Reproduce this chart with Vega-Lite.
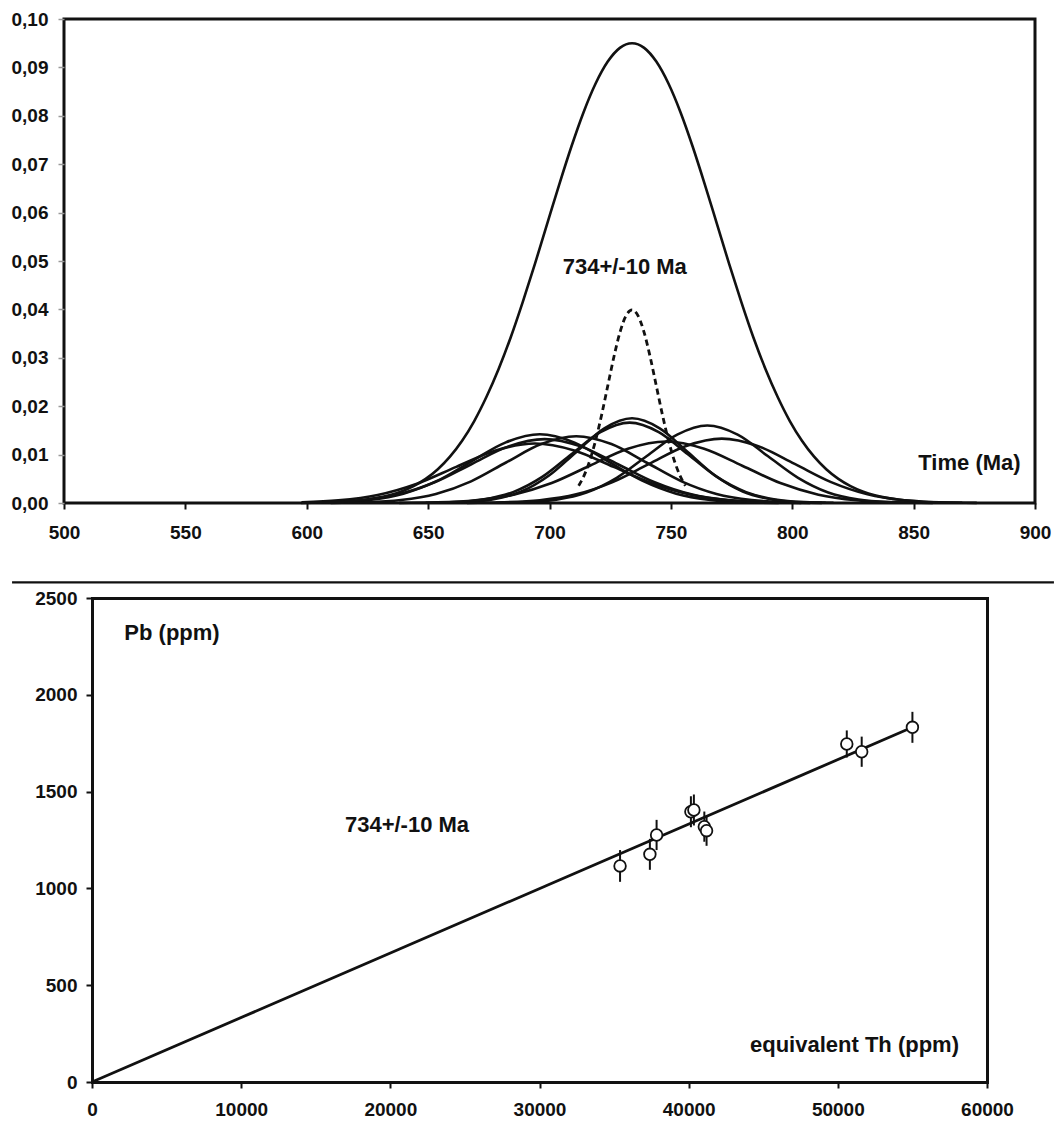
{
  "$schema": "https://vega.github.io/schema/vega-lite/v6.json",
  "padding": {"left": 9, "top": 8, "right": 0, "bottom": 0},
  "background": "white",
  "spacing": 4,
  "config": {
    "font": "Liberation Sans",
    "axis": {"labelFont": "Liberation Sans", "labelFontWeight": "bold", "labelFontSize": 19, "labelColor": "#111", "grid": false, "title": null, "labelFlush": false, "labelOverlap": false}
  },
  "datasets": {
    "curves": [
      {"c":"A","t":597.7,"p":0.00003},{"c":"A","t":611.7,"p":0.00016},{"c":"A","t":625.8,"p":0.00062},{"c":"A","t":639.8,"p":0.00192},{"c":"A","t":653.9,"p":0.00461},{"c":"A","t":667.9,"p":0.00861},{"c":"A","t":682.0,"p":0.01253},{"c":"A","t":696.0,"p":0.0142},{"c":"A","t":710.1,"p":0.01253},{"c":"A","t":724.1,"p":0.00861},{"c":"A","t":738.2,"p":0.00461},{"c":"A","t":752.2,"p":0.00192},{"c":"A","t":766.3,"p":0.00062},{"c":"A","t":780.3,"p":0.00016},{"c":"A","t":794.4,"p":0.00003},
      {"c":"B","t":598.0,"p":0.00004},{"c":"B","t":607.4,"p":0.00015},{"c":"B","t":622.5,"p":0.00058},{"c":"B","t":637.6,"p":0.00179},{"c":"B","t":652.7,"p":0.00429},{"c":"B","t":667.8,"p":0.00801},{"c":"B","t":682.9,"p":0.01165},{"c":"B","t":698.0,"p":0.0132},{"c":"B","t":713.1,"p":0.01165},{"c":"B","t":728.2,"p":0.00801},{"c":"B","t":743.3,"p":0.00429},{"c":"B","t":758.4,"p":0.00179},{"c":"B","t":773.5,"p":0.00058},{"c":"B","t":788.6,"p":0.00015},{"c":"B","t":803.7,"p":0.00003},
      {"c":"C","t":598.0,"p":0.00014},{"c":"C","t":613.0,"p":0.00054},{"c":"C","t":629.2,"p":0.00166},{"c":"C","t":645.4,"p":0.00399},{"c":"C","t":661.6,"p":0.00746},{"c":"C","t":677.8,"p":0.01086},{"c":"C","t":694.0,"p":0.0123},{"c":"C","t":710.2,"p":0.01086},{"c":"C","t":726.4,"p":0.00746},{"c":"C","t":742.6,"p":0.00399},{"c":"C","t":758.8,"p":0.00166},{"c":"C","t":775.0,"p":0.00054},{"c":"C","t":791.2,"p":0.00014},{"c":"C","t":807.4,"p":0.00003},
      {"c":"D","t":609.9,"p":0.00003},{"c":"D","t":624.3,"p":0.00015},{"c":"D","t":638.8,"p":0.00061},{"c":"D","t":653.2,"p":0.00187},{"c":"D","t":667.7,"p":0.00448},{"c":"D","t":682.1,"p":0.00837},{"c":"D","t":696.6,"p":0.01218},{"c":"D","t":711.0,"p":0.0138},{"c":"D","t":725.5,"p":0.01218},{"c":"D","t":739.9,"p":0.00837},{"c":"D","t":754.4,"p":0.00448},{"c":"D","t":768.8,"p":0.00187},{"c":"D","t":783.3,"p":0.00061},{"c":"D","t":797.7,"p":0.00015},{"c":"D","t":812.2,"p":0.00003},
      {"c":"E","t":654.2,"p":0.00004},{"c":"E","t":665.6,"p":0.00019},{"c":"E","t":677.0,"p":0.00077},{"c":"E","t":688.4,"p":0.00237},{"c":"E","t":699.8,"p":0.00568},{"c":"E","t":711.2,"p":0.01061},{"c":"E","t":722.6,"p":0.01544},{"c":"E","t":734.0,"p":0.0175},{"c":"E","t":745.4,"p":0.01544},{"c":"E","t":756.8,"p":0.01061},{"c":"E","t":768.2,"p":0.00568},{"c":"E","t":779.6,"p":0.00237},{"c":"E","t":791.0,"p":0.00077},{"c":"E","t":802.4,"p":0.00019},{"c":"E","t":813.8,"p":0.00004},
      {"c":"F","t":649.0,"p":0.00004},{"c":"F","t":661.0,"p":0.00018},{"c":"F","t":673.0,"p":0.00073},{"c":"F","t":685.0,"p":0.00225},{"c":"F","t":697.0,"p":0.00539},{"c":"F","t":709.0,"p":0.01007},{"c":"F","t":721.0,"p":0.01465},{"c":"F","t":733.0,"p":0.0166},{"c":"F","t":745.0,"p":0.01465},{"c":"F","t":757.0,"p":0.01007},{"c":"F","t":769.0,"p":0.00539},{"c":"F","t":781.0,"p":0.00225},{"c":"F","t":793.0,"p":0.00073},{"c":"F","t":805.0,"p":0.00018},{"c":"F","t":817.0,"p":0.00004},
      {"c":"I","t":638.1,"p":0.00003},{"c":"I","t":653.8,"p":0.00014},{"c":"I","t":669.5,"p":0.00056},{"c":"I","t":685.2,"p":0.00172},{"c":"I","t":700.9,"p":0.00412},{"c":"I","t":716.6,"p":0.0077},{"c":"I","t":732.3,"p":0.01121},{"c":"I","t":748.0,"p":0.0127},{"c":"I","t":763.7,"p":0.01121},{"c":"I","t":779.4,"p":0.0077},{"c":"I","t":795.1,"p":0.00412},{"c":"I","t":810.8,"p":0.00172},{"c":"I","t":826.5,"p":0.00056},{"c":"I","t":842.2,"p":0.00014},{"c":"I","t":857.9,"p":0.00003},
      {"c":"G","t":677.9,"p":0.00004},{"c":"G","t":690.3,"p":0.00018},{"c":"G","t":702.8,"p":0.0007},{"c":"G","t":715.2,"p":0.00217},{"c":"G","t":727.7,"p":0.0052},{"c":"G","t":740.1,"p":0.0097},{"c":"G","t":752.6,"p":0.01412},{"c":"G","t":765.0,"p":0.016},{"c":"G","t":777.5,"p":0.01412},{"c":"G","t":789.9,"p":0.0097},{"c":"G","t":802.4,"p":0.0052},{"c":"G","t":814.8,"p":0.00217},{"c":"G","t":827.3,"p":0.0007},{"c":"G","t":839.7,"p":0.00018},{"c":"G","t":852.2,"p":0.00004},
      {"c":"H","t":666.0,"p":0.00003},{"c":"H","t":681.0,"p":0.00015},{"c":"H","t":696.0,"p":0.00058},{"c":"H","t":711.0,"p":0.0018},{"c":"H","t":726.0,"p":0.00432},{"c":"H","t":741.0,"p":0.00807},{"c":"H","t":756.0,"p":0.01174},{"c":"H","t":771.0,"p":0.0133},{"c":"H","t":786.0,"p":0.01174},{"c":"H","t":801.0,"p":0.00807},{"c":"H","t":816.0,"p":0.00432},{"c":"H","t":831.0,"p":0.0018},{"c":"H","t":846.0,"p":0.00058},{"c":"H","t":861.0,"p":0.00015},{"c":"H","t":876.0,"p":0.00003},
      {"c":"S","t":598,"p":0.00005},{"c":"S","t":604,"p":0.0001},{"c":"S","t":614,"p":0.00027},{"c":"S","t":619,"p":0.00043},{"c":"S","t":624,"p":0.00068},{"c":"S","t":629,"p":0.00106},{"c":"S","t":634,"p":0.0016},{"c":"S","t":639,"p":0.00239},{"c":"S","t":644,"p":0.00349},{"c":"S","t":649,"p":0.00498},{"c":"S","t":654,"p":0.00697},{"c":"S","t":659,"p":0.00957},{"c":"S","t":664,"p":0.01286},{"c":"S","t":669,"p":0.01694},{"c":"S","t":674,"p":0.0219},{"c":"S","t":679,"p":0.02764},{"c":"S","t":684,"p":0.0342},{"c":"S","t":689,"p":0.04157},{"c":"S","t":694,"p":0.0494},{"c":"S","t":699,"p":0.05762},{"c":"S","t":704,"p":0.0658},{"c":"S","t":709,"p":0.07361},{"c":"S","t":714,"p":0.0807},{"c":"S","t":719,"p":0.08667},{"c":"S","t":724,"p":0.0912},{"c":"S","t":729,"p":0.09404},{"c":"S","t":734,"p":0.095},{"c":"S","t":739,"p":0.09404},{"c":"S","t":744,"p":0.0912},{"c":"S","t":749,"p":0.08667},{"c":"S","t":754,"p":0.0807},{"c":"S","t":759,"p":0.07361},{"c":"S","t":764,"p":0.0658},{"c":"S","t":769,"p":0.05762},{"c":"S","t":774,"p":0.0494},{"c":"S","t":779,"p":0.04157},{"c":"S","t":784,"p":0.0342},{"c":"S","t":789,"p":0.02764},{"c":"S","t":794,"p":0.0219},{"c":"S","t":799,"p":0.01694},{"c":"S","t":804,"p":0.01286},{"c":"S","t":809,"p":0.00957},{"c":"S","t":814,"p":0.00697},{"c":"S","t":819,"p":0.00498},{"c":"S","t":824,"p":0.00349},{"c":"S","t":829,"p":0.00239},{"c":"S","t":834,"p":0.0016},{"c":"S","t":839,"p":0.00106},{"c":"S","t":844,"p":0.00068},{"c":"S","t":849,"p":0.00043},{"c":"S","t":854,"p":0.00027},{"c":"S","t":864,"p":0.0001},{"c":"S","t":870,"p":0.00005}
    ],
    "mean": [
      {"t":712,"p":0.00355},{"t":714,"p":0.0054},{"t":716.5,"p":0.00863},{"t":719,"p":0.01296},{"t":721.5,"p":0.01827},{"t":724,"p":0.0242},{"t":726.5,"p":0.03012},{"t":729,"p":0.03521},{"t":731.5,"p":0.03867},{"t":734,"p":0.0399},{"t":736.5,"p":0.03867},{"t":739,"p":0.03521},{"t":741.5,"p":0.03012},{"t":744,"p":0.0242},{"t":746.5,"p":0.01827},{"t":749,"p":0.01296},{"t":751.5,"p":0.00863},{"t":754,"p":0.0054},{"t":756,"p":0.00355}
    ],
    "toptext": [
      {"t":731.0,"p":0.0488,"label":"734+/-10 Ma"},
      {"t":873.0,"p":0.0082,"label":"Time (Ma)"}
    ],
    "sep": [{"t1":478.6,"t2":907.8,"p":-0.0164}],
    "iso": [{"th":0,"pb":0},{"th":55000,"pb":1832}],
    "pts": [
      {"th":35400,"pb":1116,"lo":1034,"hi":1198},
      {"th":37400,"pb":1176,"lo":1096,"hi":1256},
      {"th":37850,"pb":1276,"lo":1198,"hi":1354},
      {"th":40150,"pb":1396,"lo":1316,"hi":1476},
      {"th":40350,"pb":1405,"lo":1325,"hi":1485},
      {"th":41050,"pb":1319,"lo":1241,"hi":1397},
      {"th":41200,"pb":1298,"lo":1220,"hi":1376},
      {"th":50600,"pb":1746,"lo":1676,"hi":1816},
      {"th":51600,"pb":1706,"lo":1628,"hi":1784},
      {"th":55000,"pb":1832,"lo":1752,"hi":1912}
    ],
    "bottext": [
      {"th":5363,"pb":2319,"label":"Pb (ppm)"},
      {"th":21117,"pb":1327,"label":"734+/-10 Ma"},
      {"th":51117,"pb":191,"label":"equivalent Th (ppm)"}
    ]
  },
  "vconcat": [
    {
      "width": 971,
      "height": 484,
      "view": {"stroke": "#111", "strokeWidth": 3},
      "layer": [
        {
          "data": {"name": "curves"},
          "mark": {"type": "line", "interpolate": "monotone", "color": "#111", "strokeWidth": 2.6},
          "encoding": {
            "x": {"field": "t", "type": "quantitative", "scale": {"domain": [500, 900], "nice": false, "zero": false},
                  "axis": {"values": [500,550,600,650,700,750,800,850,900], "domain": false, "tickSize": 6, "tickColor": "#111", "tickWidth": 2, "labelPadding": 14}},
            "y": {"field": "p", "type": "quantitative", "scale": {"domain": [0, 0.1], "nice": false, "zero": false},
                  "axis": {"values": [0,0.01,0.02,0.03,0.04,0.05,0.06,0.07,0.08,0.09,0.1], "labelExpr": "replace(format(datum.value, '.2f'), '.', ',')", "domain": false, "tickSize": 6, "tickColor": "#999", "tickWidth": 1.5, "labelPadding": 10}},
            "detail": {"field": "c", "type": "nominal"}
          }
        },
        {
          "data": {"name": "mean"},
          "mark": {"type": "line", "interpolate": "monotone", "color": "#111", "strokeWidth": 2.8, "strokeDash": [6, 4]},
          "encoding": {
            "x": {"field": "t", "type": "quantitative"},
            "y": {"field": "p", "type": "quantitative"}
          }
        },
        {
          "data": {"name": "toptext"},
          "mark": {"type": "text", "fontSize": 22, "fontWeight": "bold", "color": "#111", "align": "center", "baseline": "middle"},
          "encoding": {
            "x": {"field": "t", "type": "quantitative"},
            "y": {"field": "p", "type": "quantitative"},
            "text": {"field": "label"}
          }
        },
        {
          "data": {"name": "sep"},
          "mark": {"type": "rule", "color": "#111", "strokeWidth": 2.2},
          "encoding": {
            "x": {"field": "t1", "type": "quantitative"},
            "x2": {"field": "t2"},
            "y": {"field": "p", "type": "quantitative"}
          }
        }
      ]
    },
    {
      "width": 923,
      "height": 484,
      "view": {"stroke": null},
      "resolve": {"axis": {"x": "independent", "y": "independent"}},
      "layer": [
        {
          "data": {"name": "iso"},
          "mark": {"type": "line", "color": "#111", "strokeWidth": 2.8},
          "encoding": {
            "x": {"field": "th", "type": "quantitative", "scale": {"domain": [0, 60000], "range": [28, 923], "nice": false, "zero": false},
                  "axis": {"orient": "bottom", "values": [0,10000,20000,30000,40000,50000,60000], "format": "d", "domainColor": "#111", "domainWidth": 3, "domainCap": "square", "tickSize": 6, "tickColor": "#111", "tickWidth": 2, "labelPadding": 12}},
            "y": {"field": "pb", "type": "quantitative", "scale": {"domain": [0, 2500], "nice": false, "zero": false},
                  "axis": {"orient": "left", "offset": -28, "values": [0,500,1000,1500,2000,2500], "format": "d", "domainColor": "#111", "domainWidth": 3, "domainCap": "square", "tickSize": 6, "tickColor": "#111", "tickWidth": 2, "labelPadding": 9}}
          }
        },
        {
          "data": {"name": "pts"},
          "mark": {"type": "rule", "color": "#111", "strokeWidth": 2},
          "encoding": {
            "x": {"field": "th", "type": "quantitative",
                  "axis": {"orient": "top", "ticks": false, "labels": false, "domainColor": "#111", "domainWidth": 3, "domainCap": "square"}},
            "y": {"field": "lo", "type": "quantitative",
                  "axis": {"orient": "right", "ticks": false, "labels": false, "domainColor": "#111", "domainWidth": 3, "domainCap": "square"}},
            "y2": {"field": "hi"}
          }
        },
        {
          "data": {"name": "pts"},
          "mark": {"type": "point", "shape": "circle", "filled": false, "fill": "white", "fillOpacity": 1, "stroke": "#111", "strokeWidth": 1.8, "size": 135, "opacity": 1},
          "encoding": {
            "x": {"field": "th", "type": "quantitative", "axis": null},
            "y": {"field": "pb", "type": "quantitative", "axis": null}
          }
        },
        {
          "data": {"name": "bottext"},
          "mark": {"type": "text", "fontSize": 22, "fontWeight": "bold", "color": "#111", "align": "center", "baseline": "middle"},
          "encoding": {
            "x": {"field": "th", "type": "quantitative", "axis": null},
            "y": {"field": "pb", "type": "quantitative", "axis": null},
            "text": {"field": "label"}
          }
        }
      ]
    }
  ]
}
